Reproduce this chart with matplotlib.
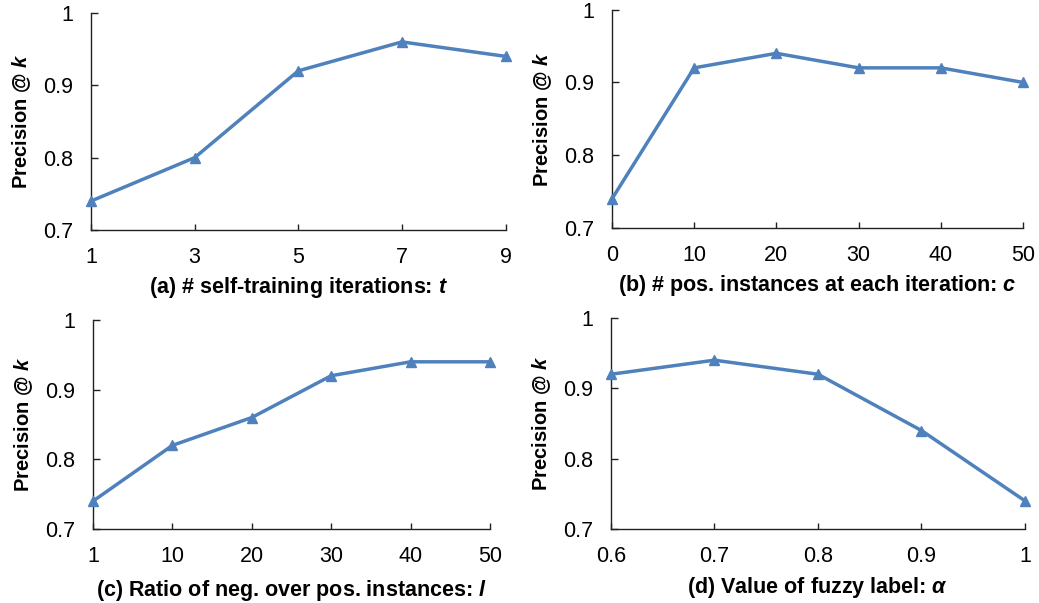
import matplotlib.pyplot as plt

plt.rcParams['font.family'] = ['Liberation Sans', 'DejaVu Sans']
plt.rcParams['mathtext.fontset'] = 'custom'
plt.rcParams['mathtext.rm'] = 'Liberation Sans'
plt.rcParams['mathtext.it'] = 'Liberation Sans:italic'
plt.rcParams['mathtext.bf'] = 'Liberation Sans:bold'
plt.rcParams['mathtext.bfit'] = 'Liberation Sans:italic:bold'

# (a) self-training iterations
a_x = [1, 3, 5, 7, 9]
a_y = [0.74, 0.80, 0.92, 0.96, 0.94]
# (b) positive instances per iteration
b_x = [0, 10, 20, 30, 40, 50]
b_y = [0.74, 0.92, 0.94, 0.92, 0.92, 0.90]
# (c) neg/pos ratio (categorical axis)
c_labels = ['1', '10', '20', '30', '40', '50']
c_y = [0.74, 0.82, 0.86, 0.92, 0.94, 0.94]
# (d) fuzzy label value
d_x = [0.6, 0.7, 0.8, 0.9, 1.0]
d_y = [0.92, 0.94, 0.92, 0.84, 0.74]
d_labels = ['0.6', '0.7', '0.8', '0.9', '1']

y_ticks = [0.7, 0.8, 0.9, 1.0]
y_labels = ['0.7', '0.8', '0.9', '1']

xlabels = [
    r'(a) # self-training iterations: $\mathbfit{t}$',
    r'(b) # pos. instances at each iteration: $\mathbfit{c}$',
    r'(c) Ratio of neg. over pos. instances: $\mathbfit{l}$',
    r'(d) Value of fuzzy label: $\mathbfit{\alpha}$',
]
xlabel_pads = [5, 5, 8, 6]

fig = plt.figure(figsize=(10.39, 6.03), dpi=100)
boxes = [
    [0.0876, 0.6186, 0.399, 0.3599],
    [0.589, 0.622, 0.3956, 0.362],
    [0.0895, 0.1227, 0.382, 0.3466],
    [0.588, 0.1227, 0.3985, 0.35],
]
axes = [fig.add_axes(b) for b in boxes]

c_pos = list(range(len(c_labels)))
data = [(a_x, a_y), (b_x, b_y), (c_pos, c_y), (d_x, d_y)]

for i, ax in enumerate(axes):
    xs, ys = data[i]
    ax.plot(xs, ys, color='#4F81BD', lw=2.5, marker='^', markersize=7,
            clip_on=False, zorder=3)
    ax.set_xlim(xs[0], xs[-1])
    ax.set_ylim(0.7, 1.0)
    ax.set_yticks(y_ticks)
    ax.set_yticklabels(y_labels)
    ax.set_xticks(xs)
    for s in ['top', 'right']:
        ax.spines[s].set_visible(False)
    for s in ['left', 'bottom']:
        ax.spines[s].set_linewidth(1.0)
        ax.spines[s].set_color('#222222')
    ax.tick_params(axis='y', direction='in', length=5, width=1,
                   labelsize=15.5, pad=13, color='#222222')
    ax.tick_params(axis='x', direction='in', length=4, width=1,
                   labelsize=15.5, pad=12, color='#222222')
    ax.set_ylabel(r'Precision @ $\mathbfit{k}$', fontsize=14.5,
                  fontweight='bold', labelpad=7)
    ax.set_xlabel(xlabels[i], fontsize=15.5, fontweight='bold',
                  labelpad=xlabel_pads[i])

axes[2].set_xticklabels(c_labels)
axes[3].set_xticklabels(d_labels)

fig.savefig('out.png', dpi=100)
